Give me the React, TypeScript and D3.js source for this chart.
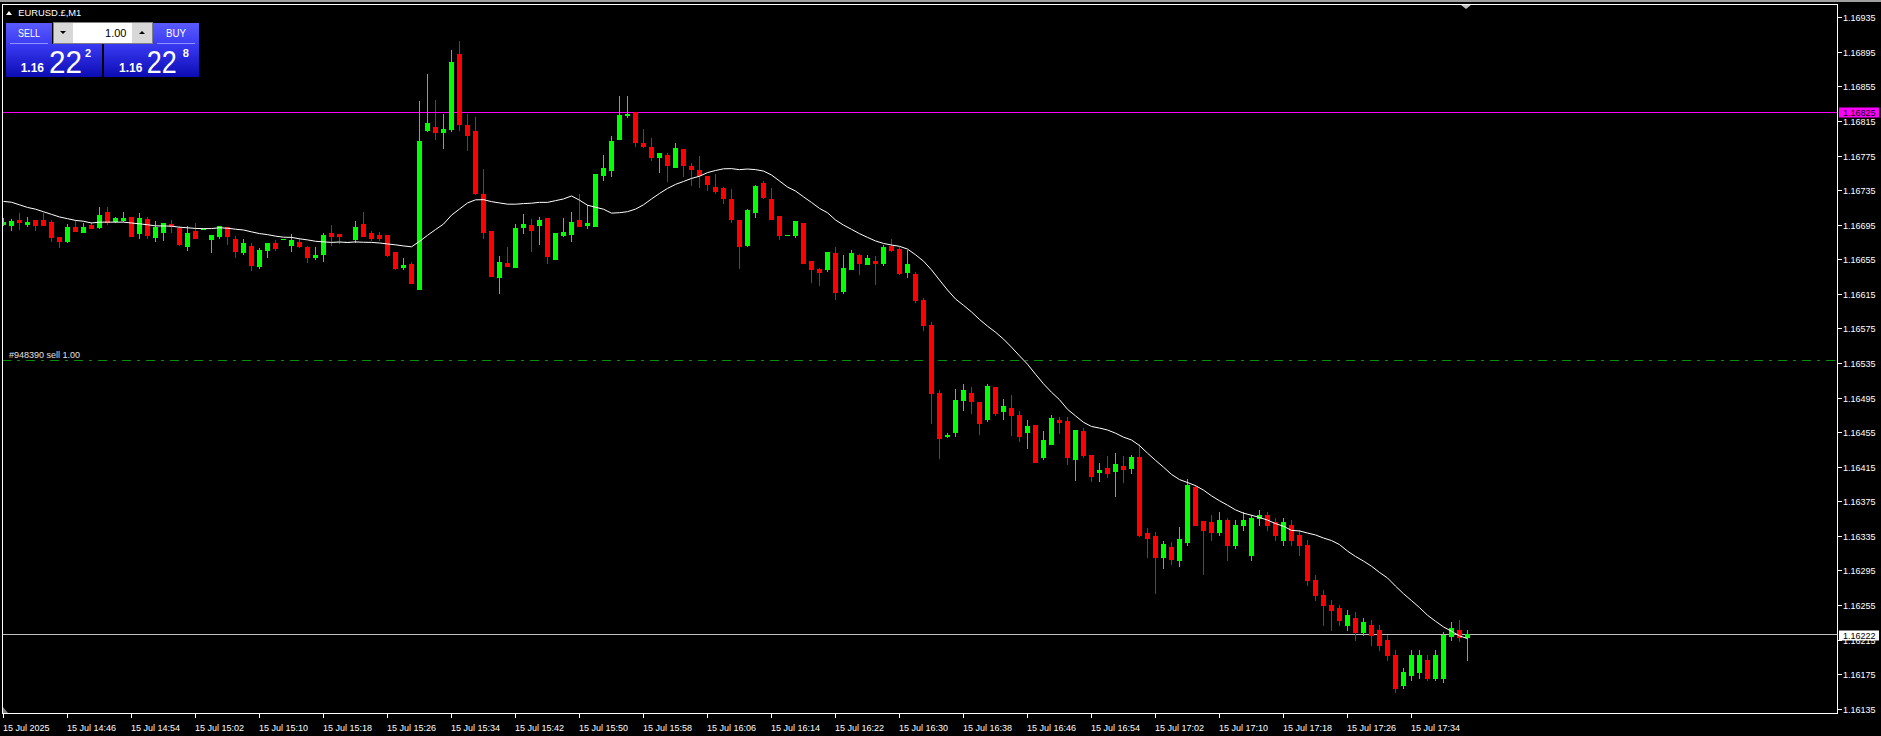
import React from 'react';
import * as d3 from 'd3';

const W = 1881;
const H = 736;

const opens = [
1.16696,1.16695,1.16700,1.16696,1.16700,1.16700,1.16698,1.16681,1.16676,1.16692,
1.16687,1.16695,1.16692,1.16710,1.16699,1.16700,1.16704,1.16685,1.16702,1.16681,
1.16687,1.16696,1.16691,1.16670,1.16688,1.16690,1.16678,1.16682,1.16692,1.16678,
1.16663,1.16670,1.16647,1.16666,1.16674,1.16679,1.16672,1.16675,1.16669,1.16658,
1.16661,1.16685,1.16684,1.16675,1.16678,1.16696,1.16685,1.16683,1.16683,1.16663,
1.16646,1.16650,1.16621,1.16805,1.16808,1.16802,1.16806,1.16893,1.16810,1.16803,
1.16731,1.16688,1.16634,1.16651,1.16646,1.16692,1.16695,1.16695,1.16703,1.16655,
1.16683,1.16684,1.16700,1.16695,1.16694,1.16752,1.16758,1.16794,1.16822,1.16825,
1.16790,1.16785,1.16773,1.16776,1.16762,1.16783,1.16763,1.16758,1.16751,1.16739,
1.16737,1.16725,1.16700,1.16672,1.16710,1.16743,1.16725,1.16705,1.16683,1.16683,
1.16697,1.16653,1.16644,1.16644,1.16662,1.16618,1.16644,1.16660,1.16649,1.16653,
1.16651,1.16670,1.16667,1.16640,1.16638,1.16608,1.16579,1.16500,1.16450,1.16455,
1.16492,1.16500,1.16490,1.16470,1.16507,1.16479,1.16483,1.16475,1.16455,1.16463,
1.16426,1.16441,1.16469,1.16468,1.16424,1.16456,1.16429,1.16409,1.16414,1.16410,
1.16416,1.16414,1.16426,1.16338,1.16335,1.16311,1.16322,1.16307,1.16328,1.16392,
1.16352,1.16351,1.16339,1.16353,1.16324,1.16348,1.16313,1.16356,1.16359,1.16351,
1.16330,1.16348,1.16336,1.16324,1.16284,1.16267,1.16255,1.16251,1.16232,1.16240,
1.16224,1.16232,1.16226,1.16215,1.16197,1.16162,1.16174,1.16177,1.16191,1.16171,
1.16171,1.16219,1.16226,1.16218
];
const highs = [
1.16703,1.16702,1.16709,1.16704,1.16700,1.16709,1.16700,1.16681,1.16696,1.16700,
1.16697,1.16698,1.16716,1.16716,1.16704,1.16710,1.16704,1.16708,1.16704,1.16699,
1.16697,1.16700,1.16694,1.16694,1.16697,1.16690,1.16683,1.16694,1.16692,1.16682,
1.16678,1.16674,1.16668,1.16674,1.16677,1.16679,1.16684,1.16680,1.16670,1.16669,
1.16685,1.16695,1.16684,1.16675,1.16699,1.16710,1.16688,1.16687,1.16683,1.16663,
1.16656,1.16652,1.16838,1.16869,1.16839,1.16823,1.16897,1.16908,1.16823,1.16820,
1.16759,1.16688,1.16659,1.16669,1.16696,1.16707,1.16702,1.16704,1.16703,1.16685,
1.16703,1.16710,1.16731,1.16718,1.16754,1.16776,1.16798,1.16844,1.16844,1.16825,
1.16806,1.16795,1.16778,1.16778,1.16790,1.16783,1.16766,1.16775,1.16751,1.16754,
1.16739,1.16736,1.16700,1.16713,1.16741,1.16746,1.16737,1.16705,1.16683,1.16699,
1.16697,1.16653,1.16645,1.16663,1.16669,1.16660,1.16666,1.16661,1.16660,1.16659,
1.16671,1.16678,1.16669,1.16666,1.16640,1.16610,1.16582,1.16504,1.16454,1.16505,
1.16511,1.16507,1.16490,1.16511,1.16507,1.16493,1.16498,1.16479,1.16469,1.16463,
1.16456,1.16475,1.16472,1.16473,1.16457,1.16460,1.16429,1.16419,1.16427,1.16431,
1.16427,1.16429,1.16441,1.16344,1.16339,1.16329,1.16328,1.16345,1.16401,1.16394,
1.16352,1.16359,1.16363,1.16356,1.16353,1.16363,1.16359,1.16365,1.16363,1.16356,
1.16356,1.16353,1.16342,1.16330,1.16290,1.16272,1.16261,1.16255,1.16249,1.16247,
1.16240,1.16238,1.16232,1.16220,1.16203,1.16182,1.16203,1.16203,1.16197,1.16203,
1.16224,1.16235,1.16238,1.16226
];
const lows = [
1.16695,1.16689,1.16690,1.16694,1.16689,1.16695,1.16676,1.16669,1.16675,1.16688,
1.16687,1.16691,1.16691,1.16696,1.16698,1.16699,1.16682,1.16680,1.16680,1.16676,
1.16677,1.16687,1.16672,1.16666,1.16680,1.16690,1.16663,1.16680,1.16673,1.16658,
1.16661,1.16643,1.16645,1.16658,1.16666,1.16679,1.16665,1.16669,1.16652,1.16655,
1.16653,1.16672,1.16674,1.16675,1.16675,1.16682,1.16677,1.16677,1.16659,1.16644,
1.16644,1.16628,1.16621,1.16803,1.16794,1.16784,1.16803,1.16805,1.16781,1.16731,
1.16680,1.16636,1.16616,1.16647,1.16646,1.16685,1.16665,1.16673,1.16651,1.16655,
1.16682,1.16676,1.16694,1.16691,1.16694,1.16747,1.16751,1.16794,1.16820,1.16786,
1.16785,1.16770,1.16756,1.16746,1.16762,1.16751,1.16741,1.16739,1.16735,1.16732,
1.16720,1.16698,1.16645,1.16670,1.16704,1.16726,1.16702,1.16678,1.16683,1.16681,
1.16651,1.16629,1.16625,1.16642,1.16609,1.16616,1.16644,1.16638,1.16649,1.16626,
1.16648,1.16665,1.16638,1.16634,1.16606,1.16573,1.16466,1.16425,1.16449,1.16451,
1.16481,1.16477,1.16453,1.16468,1.16475,1.16470,1.16452,1.16445,1.16437,1.16420,
1.16424,1.16441,1.16454,1.16418,1.16400,1.16426,1.16398,1.16399,1.16403,1.16381,
1.16397,1.16408,1.16335,1.16311,1.16269,1.16298,1.16302,1.16300,1.16324,1.16348,
1.16291,1.16330,1.16336,1.16307,1.16321,1.16342,1.16307,1.16348,1.16342,1.16330,
1.16324,1.16324,1.16313,1.16278,1.16261,1.16232,1.16226,1.16232,1.16226,1.16215,
1.16220,1.16209,1.16203,1.16191,1.16154,1.16159,1.16168,1.16171,1.16168,1.16168,
1.16166,1.16215,1.16213,1.16191
];
const closes = [
1.16698,1.16699,1.16698,1.16698,1.16695,1.16695,1.16681,1.16676,1.16692,1.16688,
1.16692,1.16691,1.16706,1.16698,1.16703,1.16703,1.16682,1.16703,1.16683,1.16692,
1.16697,1.16694,1.16673,1.16685,1.16680,1.16690,1.16683,1.16694,1.16682,1.16665,
1.16674,1.16648,1.16666,1.16674,1.16668,1.16679,1.16677,1.16670,1.16658,1.16660,
1.16683,1.16682,1.16682,1.16675,1.16692,1.16682,1.16680,1.16680,1.16660,1.16645,
1.16648,1.16628,1.16792,1.16813,1.16802,1.16806,1.16883,1.16812,1.16799,1.16732,
1.16687,1.16636,1.16652,1.16647,1.16691,1.16696,1.16689,1.16700,1.16659,1.16685,
1.16687,1.16698,1.16694,1.16697,1.16754,1.16761,1.16792,1.16822,1.16823,1.16791,
1.16786,1.16773,1.16778,1.16764,1.16784,1.16764,1.16759,1.16752,1.16742,1.16734,
1.16726,1.16702,1.16670,1.16712,1.16740,1.16727,1.16702,1.16683,1.16683,1.16699,
1.16651,1.16644,1.16640,1.16663,1.16617,1.16645,1.16662,1.16651,1.16656,1.16651,
1.16669,1.16666,1.16639,1.16649,1.16608,1.16579,1.16500,1.16448,1.16452,1.16492,
1.16504,1.16491,1.16466,1.16508,1.16477,1.16485,1.16475,1.16451,1.16462,1.16420,
1.16446,1.16471,1.16467,1.16426,1.16457,1.16429,1.16404,1.16411,1.16408,1.16418,
1.16412,1.16426,1.16336,1.16333,1.16311,1.16326,1.16308,1.16331,1.16394,1.16348,
1.16342,1.16339,1.16353,1.16324,1.16348,1.16353,1.16356,1.16359,1.16348,1.16336,
1.16351,1.16330,1.16324,1.16284,1.16267,1.16255,1.16249,1.16238,1.16243,1.16224,
1.16235,1.16220,1.16209,1.16197,1.16159,1.16177,1.16197,1.16197,1.16171,1.16197,
1.16220,1.16228,1.16218,1.16222
];
// moving average values for the first bars (earlier closes are off-screen)
const maHead = [
1.16722,1.16721,1.16718,1.16715,1.16713,1.16710,1.16707,1.16704,1.16702,1.16700,
1.16699,1.16697,1.16698,1.16698,1.16698,1.16698,1.16697,1.16696,1.16695
];
const maPeriod = 20;

const priceTicks = [
1.16935,1.16895,1.16855,1.16815,1.16775,1.16735,1.16695,1.16655,1.16615,1.16575,
1.16535,1.16495,1.16455,1.16415,1.16375,1.16335,1.16295,1.16255,1.16215,1.16175,1.16135
];
const timeLabels = [
'15 Jul 2025','15 Jul 14:46','15 Jul 14:54','15 Jul 15:02','15 Jul 15:10','15 Jul 15:18',
'15 Jul 15:26','15 Jul 15:34','15 Jul 15:42','15 Jul 15:50','15 Jul 15:58','15 Jul 16:06',
'15 Jul 16:14','15 Jul 16:22','15 Jul 16:30','15 Jul 16:38','15 Jul 16:46','15 Jul 16:54',
'15 Jul 17:02','15 Jul 17:10','15 Jul 17:18','15 Jul 17:26','15 Jul 17:34'
];
const labelStep = 8;

const levelMagenta = 1.16825;
const levelBid = 1.16222;
const levelOrder = 1.16539;
const orderText = '#948390 sell 1.00';
const symbolText = 'EURUSD.£,M1';
const lotText = '1.00';
const sellQuote = ['1.16', '22', '2'];
const buyQuote = ['1.16', '22', '8'];

const FONT = '"Liberation Sans", Arial, sans-serif';
const BULL = '#00ff00';
const BEAR = '#ff0000';

export default function App() {
  const n = closes.length;
  const L = 2, T = 4, R = 1837, B = 713;
  const x = d3.scaleLinear().domain([0, n - 1]).range([3, 3 + 8 * (n - 1)]);
  const y = d3.scaleLinear().domain([1.16135, 1.16935]).range([708.7, 17.3]);

  const ma = closes.map((_, i) =>
    i < maPeriod - 1 ? maHead[i] : (d3.mean(closes.slice(i - maPeriod + 1, i + 1)) as number)
  );
  const maPath = d3.line<number>().x((_, i) => x(i) + 0.5).y((v) => y(v))(ma) || '';

  const candles = closes.map((c, i) => {
    const o = opens[i], h = highs[i], l = lows[i];
    const cx = Math.round(x(i));
    const top = Math.round(y(Math.max(o, c)));
    const bot = Math.round(y(Math.min(o, c)));
    const wt = Math.round(y(h));
    const wb = Math.round(y(l));
    const col = c >= o ? BULL : BEAR;
    return (
      <g key={i} fill={col}>
        <rect x={cx} y={wt} width={1} height={Math.max(1, wb - wt + 1)} />
        <rect x={cx - 2} y={top} width={5} height={Math.max(1, bot - top + 1)} />
      </g>
    );
  });

  const yMag = Math.round(y(levelMagenta)) + 0.5;
  const yBid = Math.round(y(levelBid)) + 0.5;
  const yOrd = Math.round(y(levelOrder)) + 0.5;

  return (
    <svg width={W} height={H} style={{ position: 'absolute', left: 0, top: 0, display: 'block' }}
      xmlns="http://www.w3.org/2000/svg">
      <defs>
        <clipPath id="plotClip">
          <rect x={L + 1} y={T + 1} width={R - L - 1} height={B - T - 1} />
        </clipPath>
        <linearGradient id="gHead" x1="0" y1="0" x2="0" y2="1">
          <stop offset="0" stopColor="#5a5aff" />
          <stop offset="1" stopColor="#3c3cf2" />
        </linearGradient>
        <linearGradient id="gQuote" x1="0" y1="0" x2="0" y2="1">
          <stop offset="0" stopColor="#3a3af4" />
          <stop offset="1" stopColor="#0c0cb4" />
        </linearGradient>
      </defs>
      <rect x={0} y={0} width={W} height={H} fill="#000" />
      <rect x={0} y={0} width={W} height={2} fill="#a0a0a0" />

      <g clipPath="url(#plotClip)">
        <line x1={L} x2={R} y1={yOrd} y2={yOrd} stroke="#009000" strokeWidth={1} strokeDasharray="9,6,3,6" />
        <line x1={L} x2={R} y1={yMag} y2={yMag} stroke="#ff00ff" strokeWidth={1} />
        <line x1={L} x2={R} y1={yBid} y2={yBid} stroke="#c0c0c0" strokeWidth={1} />
        {candles}
        <path d={maPath} fill="none" stroke="#ffffff" strokeWidth={1} />
      </g>
      <text x={9} y={yOrd - 2.5} fontFamily={FONT} fontSize={9} fill="#e0e0e0">{orderText}</text>

      <rect x={L + 0.5} y={T + 0.5} width={R - L} height={B - T} fill="none" stroke="#ffffff" strokeWidth={1} />

      {/* price axis */}
      {priceTicks.map((p) => {
        const yy = Math.round(y(p)) + 0.5;
        return (
          <g key={p}>
            <line x1={R + 1} x2={R + 5} y1={yy} y2={yy} stroke="#ffffff" />
            <text x={R + 6} y={yy + 3.3} fontFamily={FONT} fontSize={9} fill="#ffffff">{p.toFixed(5)}</text>
          </g>
        );
      })}
      <rect x={R + 2} y={yMag - 5} width={40} height={10} fill="#ff00ff" />
      <text x={R + 6} y={yMag + 3.3} fontFamily={FONT} fontSize={9} fill="#000">{levelMagenta.toFixed(5)}</text>
      <rect x={R + 2} y={yBid - 4} width={40} height={10} fill="#ffffff" />
      <text x={R + 6} y={yBid + 4} fontFamily={FONT} fontSize={9} fill="#000">{levelBid.toFixed(5)}</text>

      {/* time axis */}
      {timeLabels.map((t, k) => {
        const xx = Math.round(x(k * labelStep)) + 0.5;
        return (
          <g key={t}>
            <line x1={xx} x2={xx} y1={B + 1} y2={B + 5} stroke="#ffffff" />
            <text x={xx - 0.5} y={731} fontFamily={FONT} fontSize={9} fill="#ffffff">{t}</text>
          </g>
        );
      })}
      <polygon points={`${L + 1},${B - 6} ${L + 6},${B} ${L + 1},${B}`} fill="#808080" />
      <polygon points="1461,5 1471,5 1466,9" fill="#c0c0c0" />

      {/* one-click trading panel */}
      <polygon points="6,15 12,15 9,11" fill="#ffffff" />
      <text x={18.3} y={15.8} fontFamily={FONT} fontSize={9.4} fill="#ffffff">{symbolText}</text>

      <rect x={6} y={23} width={46} height={21} fill="url(#gHead)" />
      <rect x={153} y={23} width={46} height={21} fill="url(#gHead)" />
      <line x1={10} x2={48} y1={43.5} y2={43.5} stroke="#9090ff" />
      <line x1={157} x2={195} y1={43.5} y2={43.5} stroke="#9090ff" />
      <text x={29} y={37} textAnchor="middle" fontFamily={FONT} fontSize={11} fill="#ffffff" textLength={22} lengthAdjust="spacingAndGlyphs">SELL</text>
      <text x={176} y={37} textAnchor="middle" fontFamily={FONT} fontSize={11} fill="#ffffff" textLength={20} lengthAdjust="spacingAndGlyphs">BUY</text>

      <rect x={53.5} y={22.5} width={99} height={21} fill="#ffffff" stroke="#808080" />
      <rect x={54} y={23} width={19} height={20} fill="#d8d8d8" />
      <rect x={132} y={23} width={20} height={20} fill="#d8d8d8" />
      <polygon points="60,31 66,31 63,34" fill="#000" />
      <polygon points="139,34 145,34 142,31" fill="#000" />
      <text x={126.5} y={36.5} textAnchor="end" fontFamily={FONT} fontSize={11} fill="#000">{lotText}</text>

      <rect x={6} y={44} width={96} height={33} fill="url(#gQuote)" />
      <rect x={104} y={44} width={95} height={33} fill="url(#gQuote)" />
      <text x={20.7} y={71.7} fontFamily={FONT} fontSize={12} fontWeight="bold" fill="#ffffff">{sellQuote[0]}</text>
      <text x={49} y={72.7} fontFamily={FONT} fontSize={32} fill="#ffffff" textLength={33} lengthAdjust="spacingAndGlyphs">{sellQuote[1]}</text>
      <text x={85} y={57} fontFamily={FONT} fontSize={11} fontWeight="bold" fill="#ffffff">{sellQuote[2]}</text>
      <text x={119} y={71.7} fontFamily={FONT} fontSize={12} fontWeight="bold" fill="#ffffff">{buyQuote[0]}</text>
      <text x={146.7} y={72.7} fontFamily={FONT} fontSize={32} fill="#ffffff" textLength={30} lengthAdjust="spacingAndGlyphs">{buyQuote[1]}</text>
      <text x={182.7} y={57} fontFamily={FONT} fontSize={11} fontWeight="bold" fill="#ffffff">{buyQuote[2]}</text>
    </svg>
  );
}
